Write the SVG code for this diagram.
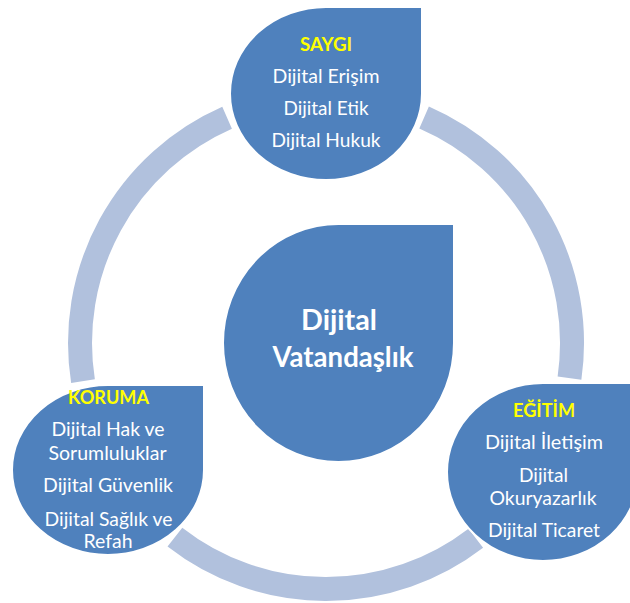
<svg xmlns="http://www.w3.org/2000/svg" width="630" height="603" viewBox="0 0 630 603">
<style>
.ring{fill:none;stroke:#B1C1DD;stroke-width:24;stroke-linecap:butt}
.drop{fill:#4F81BD;stroke:#FFFFFF;stroke-width:2}
.t{font-family:Lato,"Open Sans","DejaVu Sans",sans-serif;font-size:19px;fill:#FFFFFF;text-anchor:middle}
.h{font-family:Lato,"Open Sans","DejaVu Sans",sans-serif;font-size:19px;font-weight:bold;fill:#FFFF00;text-anchor:middle}
.c{font-family:Lato,"Open Sans","DejaVu Sans",sans-serif;font-size:28px;font-weight:bold;fill:#FFFFFF;text-anchor:middle}
</style>
<rect width="630" height="603" fill="#FFFFFF"/>
<g id="connectors">
<path class="ring" d="M 424.1 117.4 A 246 246 0 0 1 569.5 378.1"/>
<path class="ring" d="M 475.8 538.2 A 246 246 0 0 1 174.9 537.1"/>
<path class="ring" d="M 83.0 381.1 A 246 246 0 0 1 227.1 117.7"/>
</g>
<g id="center">
<path class="drop" d="M 223 343 A 115.5 119 0 0 1 338.5 224 L 454 224 L 454 343 A 115.5 119 0 0 1 338.5 462 A 115.5 119 0 0 1 223 343 Z"/>
<text class="c" x="339" y="330" textLength="76" lengthAdjust="spacingAndGlyphs">Dijital</text>
<text class="c" x="343" y="366.5" textLength="141" lengthAdjust="spacingAndGlyphs">Vatandaşlık</text>
</g>
<g id="saygi">
<path class="drop" d="M 230 93.5 A 96 86.5 0 0 1 326 7 L 422 7 L 422 93.5 A 96 86.5 0 0 1 326 180 A 96 86.5 0 0 1 230 93.5 Z"/>
<text class="h" x="326" y="50.5" textLength="52" lengthAdjust="spacingAndGlyphs">SAYGI</text>
<text class="t" x="326" y="83" textLength="107" lengthAdjust="spacingAndGlyphs">Dijital Erişim</text>
<text class="t" x="326" y="115" textLength="85" lengthAdjust="spacingAndGlyphs">Dijital Etik</text>
<text class="t" x="326" y="147" textLength="109" lengthAdjust="spacingAndGlyphs">Dijital Hukuk</text>
</g>
<g id="koruma">
<path class="drop" d="M 12 470 A 96 85 0 0 1 108 385 L 204 385 L 204 470 A 96 85 0 0 1 108 555 A 96 85 0 0 1 12 470 Z"/>
<text class="h" x="108.5" y="404" textLength="81" lengthAdjust="spacingAndGlyphs">KORUMA</text>
<text class="t" x="108" y="436" textLength="113" lengthAdjust="spacingAndGlyphs">Dijital Hak ve</text>
<text class="t" x="107.5" y="460" textLength="118" lengthAdjust="spacingAndGlyphs">Sorumluluklar</text>
<text class="t" x="108" y="491.5" textLength="130" lengthAdjust="spacingAndGlyphs">Dijital Güvenlik</text>
<text class="t" x="108.5" y="526" textLength="128" lengthAdjust="spacingAndGlyphs">Dijital Sağlık ve</text>
<text class="t" x="108" y="547.5" textLength="49" lengthAdjust="spacingAndGlyphs">Refah</text>
</g>
<g id="egitim">
<path class="drop" d="M 447 472 A 96 89 0 0 1 543 383 L 639 383 L 639 472 A 96 89 0 0 1 543 561 A 96 89 0 0 1 447 472 Z"/>
<text class="h" x="544" y="416.5" textLength="62" lengthAdjust="spacingAndGlyphs">EĞİTİM</text>
<text class="t" x="544" y="449" textLength="118" lengthAdjust="spacingAndGlyphs">Dijital İletişim</text>
<text class="t" x="543.5" y="481.5" textLength="49" lengthAdjust="spacingAndGlyphs">Dijital</text>
<text class="t" x="543" y="505" textLength="107" lengthAdjust="spacingAndGlyphs">Okuryazarlık</text>
<text class="t" x="544" y="536.5" textLength="112" lengthAdjust="spacingAndGlyphs">Dijital Ticaret</text>
</g>
</svg>
